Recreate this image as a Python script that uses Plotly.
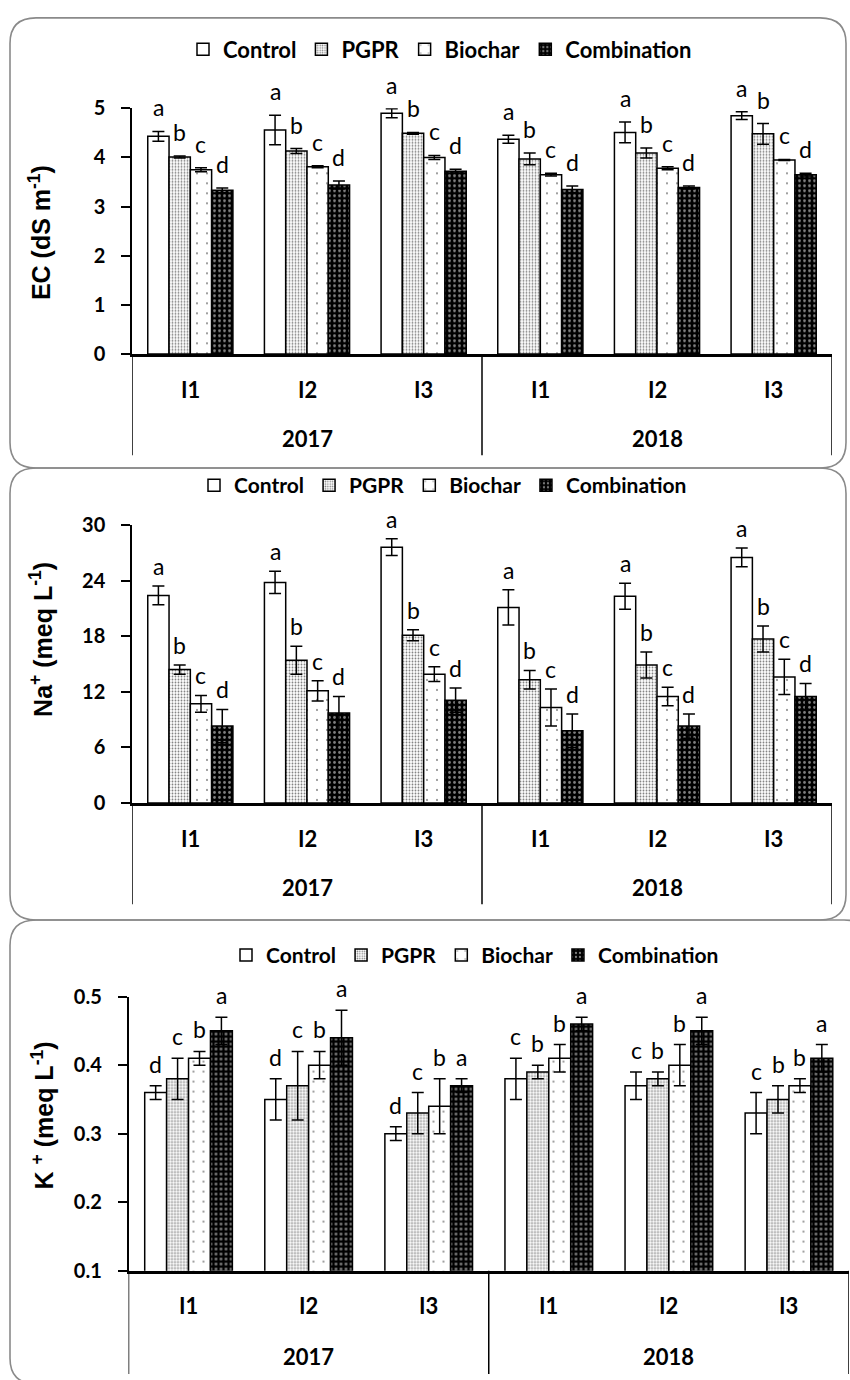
import plotly.graph_objects as go

# ---------------- data ----------------
years = ["2017", "2018"]
levels = ["I1", "I2", "I3"]
treatments = ["Control", "PGPR", "Biochar", "Combination"]

# EC (dS m-1)
ec_control = [4.43, 4.56, 4.90, 4.37, 4.51, 4.85]
ec_pgpr = [4.01, 4.13, 4.49, 3.97, 4.09, 4.48]
ec_biochar = [3.75, 3.81, 4.00, 3.65, 3.78, 3.95]
ec_comb = [3.33, 3.44, 3.72, 3.35, 3.39, 3.65]
ec_control_err = [0.10, 0.30, 0.09, 0.08, 0.21, 0.08]
ec_pgpr_err = [0.02, 0.05, 0.02, 0.12, 0.10, 0.21]
ec_biochar_err = [0.04, 0.02, 0.04, 0.03, 0.03, 0.01]
ec_comb_err = [0.05, 0.08, 0.04, 0.07, 0.03, 0.03]
ec_letters = [["a"] * 6, ["b"] * 6, ["c"] * 6, ["d"] * 6]

# Na+ (meq L-1)
na_control = [22.4, 23.8, 27.6, 21.1, 22.3, 26.5]
na_pgpr = [14.4, 15.4, 18.1, 13.3, 14.9, 17.7]
na_biochar = [10.7, 12.1, 13.9, 10.3, 11.5, 13.6]
na_comb = [8.3, 9.7, 11.1, 7.8, 8.3, 11.5]
na_control_err = [1.0, 1.2, 0.9, 1.9, 1.4, 1.0]
na_pgpr_err = [0.5, 1.5, 0.6, 1.0, 1.4, 1.4]
na_biochar_err = [0.9, 1.1, 0.8, 2.0, 1.0, 1.9]
na_comb_err = [1.8, 1.8, 1.3, 1.8, 1.3, 1.4]
na_letters = [["a"] * 6, ["b"] * 6, ["c"] * 6, ["d"] * 6]

# K+ (meq L-1)
k_control = [0.36, 0.35, 0.30, 0.38, 0.37, 0.33]
k_pgpr = [0.38, 0.37, 0.33, 0.39, 0.38, 0.35]
k_biochar = [0.41, 0.40, 0.34, 0.41, 0.40, 0.37]
k_comb = [0.45, 0.44, 0.37, 0.46, 0.45, 0.41]
k_control_err = [0.01, 0.03, 0.01, 0.03, 0.02, 0.03]
k_pgpr_err = [0.03, 0.05, 0.03, 0.01, 0.01, 0.02]
k_biochar_err = [0.01, 0.02, 0.04, 0.02, 0.03, 0.01]
k_comb_err = [0.02, 0.04, 0.01, 0.01, 0.02, 0.02]
k_letters = [["d", "d", "d", "c", "c", "c"],
             ["c", "c", "c", "b", "b", "b"],
             ["b", "b", "b", "b", "b", "b"],
             ["a", "a", "a", "a", "a", "a"]]

ec_ticks = [0, 1, 2, 3, 4, 5]
na_ticks = [0, 6, 12, 18, 24, 30]
k_ticks = [0.1, 0.2, 0.3, 0.4, 0.5]

categories = [f"{y} {l}" for y in years for l in levels]

# ---------------- layout helpers ----------------
W, H = 850, 1380
def fx(p):
    return p / W
def fy(p):
    return 1 - p / H

BARGAP = 0.27
BLACK = "black"

styles = {
    "Control": dict(color="white", pattern=dict(shape="")),
    "PGPR": dict(color="white", pattern=dict(shape=".", fgcolor="black", bgcolor="white",
                                             size=3, solidity=0.3, fillmode="overlay")),
    "Biochar": dict(color="white", pattern=dict(shape=".", fgcolor="black", bgcolor="white",
                                                size=10, solidity=0.03, fillmode="overlay")),
    "Combination": dict(color="black", pattern=dict(shape=".", fgcolor="white", bgcolor="black",
                                                    size=5, solidity=0.25, fillmode="overlay")),
}

panels = [
    dict(values=[ec_control, ec_pgpr, ec_biochar, ec_comb],
         errors=[ec_control_err, ec_pgpr_err, ec_biochar_err, ec_comb_err],
         letters=ec_letters, ticks=ec_ticks, yr=[0, 5],
         title="EC (dS m<sup>-1</sup>)",
         xpx=(132, 832), ypx=(97, 347), label_y=383, year_y=433, div_bottom=450,
         legend_xy=(440, 37), legend_size=22, title_xy=(40, 224), lshift=8,
         box=(10, 5, 846, 463)),
    dict(values=[na_control, na_pgpr, na_biochar, na_comb],
         errors=[na_control_err, na_pgpr_err, na_biochar_err, na_comb_err],
         letters=na_letters, ticks=na_ticks, yr=[0, 30],
         title="Na<sup>+</sup> (meq L<sup>-1</sup>)",
         xpx=(132, 832), ypx=(521, 804), label_y=840, year_y=890, div_bottom=907,
         legend_xy=(443, 481), legend_size=21, title_xy=(41, 638), lshift=4,
         box=(10, 463, 846, 923)),
    dict(values=[k_control, k_pgpr, k_biochar, k_comb],
         errors=[k_control_err, k_pgpr_err, k_biochar_err, k_comb_err],
         letters=k_letters, ticks=k_ticks, yr=[0.1, 0.5],
         title="K <sup>+</sup> (meq L<sup>-1</sup>)",
         xpx=(128.5, 849), ypx=(1001, 1280), label_y=1315, year_y=1367, div_bottom=1385,
         legend_xy=(475, 959), legend_size=21, title_xy=(43, 1122), lshift=6,
         box=(10, 923, 870, 1395)),
]

fig = go.Figure()
annotations = []
shapes = []
layout = {}

tickfont = dict(family="Lato", size=20, color=BLACK, weight="bold")
catfont = dict(family="Lato", size=22, color=BLACK, weight="bold")
letterfont = dict(family="Lato", size=23, color=BLACK)

for p_i, p in enumerate(panels):
    n = "" if p_i == 0 else str(p_i + 1)
    xa, ya = "x" + n, "y" + n
    lg = "legend" + n
    for t_i, tname in enumerate(treatments):
        st = styles[tname]
        fig.add_trace(go.Bar(
            x=categories, y=p["values"][t_i], name=tname,
            xaxis=xa, yaxis=ya, legend=lg,
            marker=dict(color=st["color"], pattern=st["pattern"],
                        line=dict(color=BLACK, width=1.5)),
            error_y=dict(type="data", array=p["errors"][t_i], visible=True,
                         color=BLACK, thickness=1.5, width=6),
        ))
        # significance letters
        for c_i, cat in enumerate(categories):
            annotations.append(dict(
                x=c_i + (t_i - 1.5) * (1 - BARGAP) / 4, xref=xa, yref=ya,
                y=p["values"][t_i][c_i] + p["errors"][t_i][c_i],
                text=p["letters"][t_i][c_i], showarrow=False,
                yanchor="bottom", xanchor="center", yshift=p["lshift"],
                font=letterfont))

    x0, x1 = p["xpx"]
    ytop, ybot = p["ypx"]
    layout["xaxis" + n] = dict(
        domain=[fx(x0), fx(x1)], anchor=ya, type="category",
        showticklabels=False, ticks="", showline=True, linecolor=BLACK,
        linewidth=2.5, showgrid=False, zeroline=False, range=[-0.5, 5.5],
        fixedrange=True)
    layout["yaxis" + n] = dict(
        domain=[fy(ybot), fy(ytop)], anchor=xa, range=p["yr"],
        tickmode="array", tickvals=p["ticks"],
        ticktext=[str(v) for v in p["ticks"]],
        ticks="outside", ticklen=9, tickwidth=1.5, tickcolor=BLACK,
        showline=True, linecolor=BLACK, linewidth=1.5, showgrid=False,
        zeroline=False, tickfont=tickfont, ticklabelstandoff=12, fixedrange=True)
    layout[lg] = dict(
        orientation="h", x=fx(p["legend_xy"][0]), y=fy(p["legend_xy"][1]),
        xanchor="center", yanchor="middle", xref="paper", yref="paper",
        font=dict(family="Lato", size=p["legend_size"], color=BLACK, weight="bold"),
        bgcolor="rgba(0,0,0,0)", itemwidth=30, tracegroupgap=0)

    # category labels
    for c_i, cat in enumerate(categories):
        annotations.append(dict(
            x=c_i, xref=xa, y=fy(p["label_y"]), yref="paper",
            text=levels[c_i % len(levels)], showarrow=False,
            xanchor="center", yanchor="middle", font=catfont))
    for y_i, yr in enumerate(years):
        annotations.append(dict(
            x=y_i * len(levels) + (len(levels) - 1) / 2, xref=xa,
            y=fy(p["year_y"]), yref="paper", text=yr, showarrow=False,
            xanchor="center", yanchor="middle", font=catfont))
    # group dividers
    for d in range(len(years) + 1):
        shapes.append(dict(
            type="line", xref=xa, yref="paper",
            x0=d * len(levels) - 0.5, x1=d * len(levels) - 0.5,
            y0=fy(ybot), y1=fy(p["div_bottom"]),
            line=dict(color=BLACK, width=1.5)))
    # y title
    annotations.append(dict(
        x=fx(p["title_xy"][0]), y=fy(p["title_xy"][1]), xref="paper", yref="paper",
        text=p["title"], textangle=-90, showarrow=False,
        xanchor="center", yanchor="middle",
        font=dict(family="Liberation Sans", size=25, color=BLACK, weight="bold")))
    # rounded panel border
    bx0, by0, bx1, by1 = p["box"]
    r = 26
    X0, X1 = fx(bx0), fx(bx1)
    Y0, Y1 = fy(by0), fy(by1)
    rx, ry = r / W, r / H
    path = (f"M {X0 + rx},{Y0} L {X1 - rx},{Y0} Q {X1},{Y0} {X1},{Y0 - ry} "
            f"L {X1},{Y1 + ry} Q {X1},{Y1} {X1 - rx},{Y1} "
            f"L {X0 + rx},{Y1} Q {X0},{Y1} {X0},{Y1 + ry} "
            f"L {X0},{Y0 - ry} Q {X0},{Y0} {X0 + rx},{Y0} Z")
    shapes.append(dict(type="path", xref="paper", yref="paper", path=path,
                       line=dict(color="#8a8a8a", width=1.6), layer="below"))

fig.update_layout(
    width=W, height=H, margin=dict(l=0, r=0, t=0, b=0),
    paper_bgcolor="white", plot_bgcolor="white",
    barmode="group", bargap=BARGAP, bargroupgap=0,
    annotations=annotations, shapes=shapes, **layout)

fig.write_html("out.html")
